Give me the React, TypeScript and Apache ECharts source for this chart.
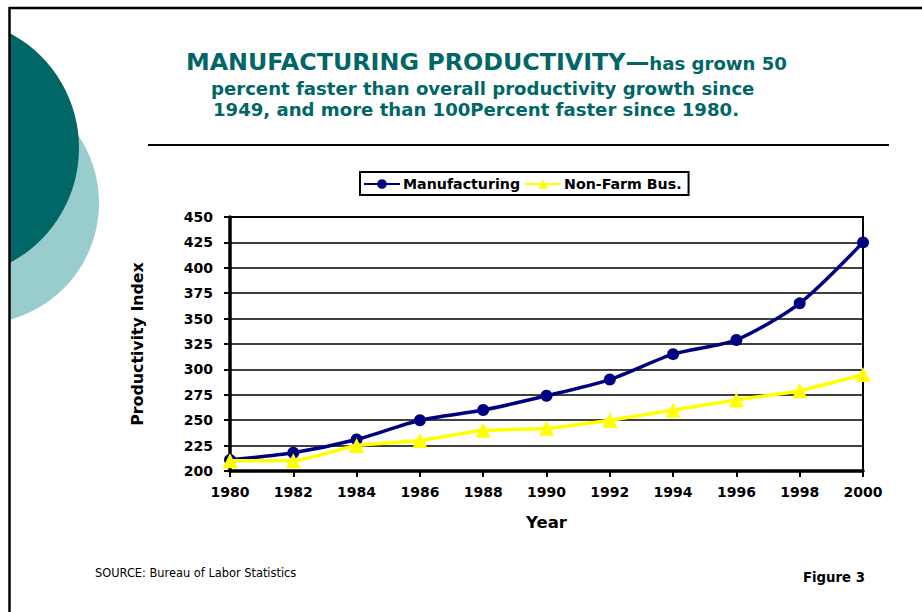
import React, { useEffect, useRef } from "react";
import * as echarts from "echarts";

const years = ["1980", "1982", "1984", "1986", "1988", "1990", "1992", "1994", "1996", "1998", "2000"];
const manufacturing = [211, 218, 231, 250, 260, 274, 290, 315, 329, 365, 425];
const nonFarm = [210, 210, 225, 230, 240, 242, 250, 260, 270, 279, 295];
const seriesNames = ["Manufacturing", "Non-Farm Bus."];
const yMin = 200;
const yMax = 450;
const yStep = 25;

const TEAL = "#006666";
const FONT = "DejaVu Sans";

export default function App() {
  const ref = useRef<HTMLDivElement>(null);
  useEffect(() => {
    if (!ref.current) return;
    const chart = echarts.init(ref.current, null, { renderer: "svg" });
    chart.setOption({
      animation: false,
      backgroundColor: "#ffffff",
      graphic: [
        { type: "circle", shape: { cx: -22, cy: 203, r: 121 }, style: { fill: "#99CCCC" }, z: 1 },
        { type: "circle", shape: { cx: -51, cy: 148, r: 130 }, style: { fill: TEAL }, z: 2 },
        { type: "rect", shape: { x: 0, y: 0, width: 9, height: 612 }, style: { fill: "#ffffff" }, z: 3 },
        { type: "line", shape: { x1: 9, y1: 8, x2: 922, y2: 8 }, style: { stroke: "#000", lineWidth: 2.5 }, z: 4 },
        { type: "line", shape: { x1: 9.5, y1: 7, x2: 9.5, y2: 612 }, style: { stroke: "#000", lineWidth: 2.5 }, z: 4 },
        { type: "line", shape: { x1: 148, y1: 145, x2: 889, y2: 145 }, style: { stroke: "#000", lineWidth: 2 }, z: 4 },
        {
          type: "text", x: 186, y: 50, z: 5,
          style: {
            text: "{a|MANUFACTURING PRODUCTIVITY—}{b|has grown 50}",
            fill: TEAL,
            textAlign: "left",
            textVerticalAlign: "top",
            rich: {
              a: { fontFamily: FONT, fontWeight: "bold", fontSize: 23.8, color: TEAL, verticalAlign: "bottom", lineHeight: 24 },
              b: { fontFamily: FONT, fontWeight: "bold", fontSize: 18.1, color: TEAL, verticalAlign: "bottom", lineHeight: 24, padding: [0, 0, 2, 0] },
            },
          },
        },
        {
          type: "text", x: 211, y: 88.3, z: 5,
          style: { text: "percent faster than overall productivity growth since", font: "bold 18.1px 'DejaVu Sans'", fill: TEAL, textVerticalAlign: "middle", textAlign: "left" },
        },
        {
          type: "text", x: 213, y: 109.5, z: 5,
          style: { text: "1949, and more than 100Percent faster since 1980.", font: "bold 18.1px 'DejaVu Sans'", fill: TEAL, textVerticalAlign: "middle", textAlign: "left" },
        },
        {
          type: "text", x: 95, y: 573, z: 5,
          style: { text: "SOURCE: Bureau of Labor Statistics", font: "11.4px 'DejaVu Sans'", fill: "#000", textVerticalAlign: "middle", textAlign: "left" },
        },
        {
          type: "text", x: 865, y: 577, z: 5,
          style: { text: "Figure 3", font: "bold 13.3px 'DejaVu Sans'", fill: "#000", textVerticalAlign: "middle", textAlign: "right" },
        },
      ],
      legend: {
        left: 360,
        top: 172,
        data: seriesNames,
        borderColor: "#000",
        borderWidth: 2,
        padding: [5, 7, 4, 3],
        itemGap: 4,
        itemWidth: 36,
        itemHeight: 12,
        textStyle: { fontFamily: FONT, fontWeight: "bold", fontSize: 14.2, color: "#000", padding: [0, 0, 0, -2] },
      },
      grid: {
        left: 230,
        right: 59,
        top: 217,
        bottom: 141,
        show: true,
        borderColor: "#000",
        borderWidth: 2,
        containLabel: false,
      },
      xAxis: {
        type: "category",
        data: years,
        boundaryGap: false,
        name: "Year",
        nameLocation: "middle",
        nameGap: 43,
        nameTextStyle: { fontFamily: FONT, fontWeight: "bold", fontSize: 16.5, color: "#000" },
        axisLine: { lineStyle: { color: "#000", width: 3.5 } },
        axisTick: { show: true, length: 6, lineStyle: { color: "#000", width: 2 }, alignWithLabel: true },
        axisLabel: { fontFamily: FONT, fontWeight: "bold", fontSize: 14, color: "#000", margin: 14 },
        splitLine: { show: false },
      },
      yAxis: {
        type: "value",
        min: yMin,
        max: yMax,
        interval: yStep,
        name: "Productivity Index",
        nameLocation: "middle",
        nameGap: 85,
        nameTextStyle: { fontFamily: FONT, fontWeight: "bold", fontSize: 15.8, color: "#000" },
        axisLine: { show: true, lineStyle: { color: "#000", width: 3.5 } },
        axisTick: { show: true, length: 6, lineStyle: { color: "#000", width: 2 } },
        axisLabel: { fontFamily: FONT, fontWeight: "bold", fontSize: 14, color: "#000", margin: 17 },
        splitLine: { show: true, lineStyle: { color: "#000", width: 1.6 } },
      },
      series: [
        {
          name: seriesNames[0],
          type: "line",
          data: manufacturing,
          smooth: 0.25,
          symbol: "circle",
          symbolSize: 12,
          itemStyle: { color: "#000080" },
          lineStyle: { color: "#000080", width: 3.5 },
          z: 3,
        },
        {
          name: seriesNames[1],
          type: "line",
          data: nonFarm,
          smooth: 0.15,
          symbol: "triangle",
          symbolSize: 15,
          itemStyle: { color: "#FFFF00" },
          lineStyle: { color: "#FFFF00", width: 3.5 },
          z: 4,
        },
      ],
    });
    return () => chart.dispose();
  }, []);
  return (
    <div
      ref={ref}
      style={{ position: "fixed", left: 0, top: 0, width: 922, height: 612, background: "#fff" }}
    />
  );
}
